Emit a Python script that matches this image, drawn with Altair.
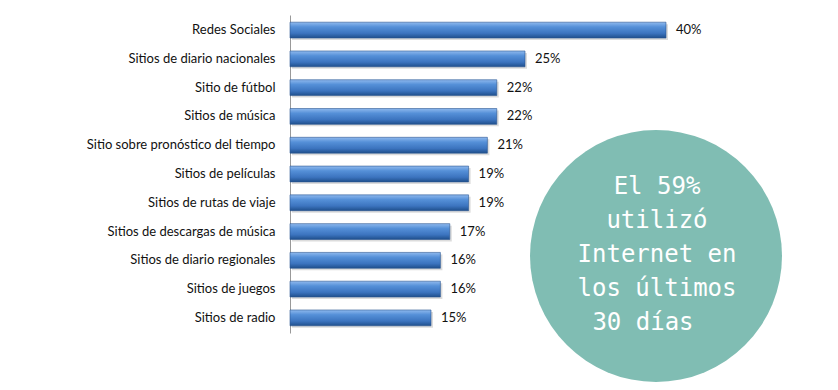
import altair as alt
import pandas as pd

categories = [
    "Redes Sociales",
    "Sitios de diario nacionales",
    "Sitio de fútbol",
    "Sitios de música",
    "Sitio sobre pronóstico del tiempo",
    "Sitios de películas",
    "Sitios de rutas de viaje",
    "Sitios de descargas de música",
    "Sitios de diario regionales",
    "Sitios de juegos",
    "Sitios de radio",
]
values = [40, 25, 22, 22, 21, 19, 19, 17, 16, 16, 15]
callout_main = "El 59%\nutilizó\nInternet en\nlos últimos"
callout_last = "30 días"

df = pd.DataFrame({"cat": categories, "val": values})
df["label"] = df["val"].astype(str) + "%"

y = alt.Y("cat:N", sort=categories, title=None,
          scale=alt.Scale(paddingInner=0.45, paddingOuter=0.25),
          axis=alt.Axis(ticks=False, labelPadding=15, labelFont="Lato",
                        labelFontSize=13, labelColor="#111", domainColor="#999",
                        labelLimit=300))
x = alt.X("val:Q", title=None, scale=alt.Scale(domain=[0, 40]), axis=None)

grad = alt.Gradient(
    gradient="linear", x1=0, x2=0, y1=0, y2=1,
    stops=[alt.GradientStop(color="#8fb9ee", offset=0),
           alt.GradientStop(color="#5590d8", offset=0.3),
           alt.GradientStop(color="#3c74bf", offset=0.7),
           alt.GradientStop(color="#1f4f8c", offset=1)],
)

shadow = alt.Chart(df).mark_bar(color="#c4c4c4", opacity=0.6, xOffset=2, yOffset=2).encode(x=x, y=y)
bars = alt.Chart(df).mark_bar(color=grad, stroke="#2a5590", strokeWidth=0.6).encode(x=x, y=y)
labels = alt.Chart(df).mark_text(align="left", dx=10, font="Lato", fontSize=13,
                                 color="#111").encode(x=x, y=y, text="label:N")

circ_df = pd.DataFrame({"t": [callout_main], "t2": [callout_last]})
circle = alt.Chart(circ_df).mark_point(
    shape="circle", filled=True, color="#80bdb3", opacity=1, size=63504
).encode(x=alt.value(366), y=alt.value(241))
ctext = alt.Chart(circ_df).mark_text(
    font="DejaVu Sans Mono", fontSize=24, color="white", lineBreak="\n",
    lineHeight=34, align="center", baseline="middle"
).encode(x=alt.value(367), y=alt.value(172), text="t:N")
ctext2 = alt.Chart(circ_df).mark_text(
    font="DejaVu Sans Mono", fontSize=24, color="white",
    align="center", baseline="middle", dx=-14
).encode(x=alt.value(367), y=alt.value(308), text="t2:N")

chart = alt.layer(shadow, bars, labels, circle, ctext, ctext2).properties(
    width=376, height=318,
    autosize=alt.AutoSizeParams(type="none"),
    padding={"left": 282, "top": 7, "right": 164, "bottom": 49},
).configure(background="white").configure_view(stroke=None)

chart.save("out.html", embed_options={"renderer": "svg", "actions": False})
